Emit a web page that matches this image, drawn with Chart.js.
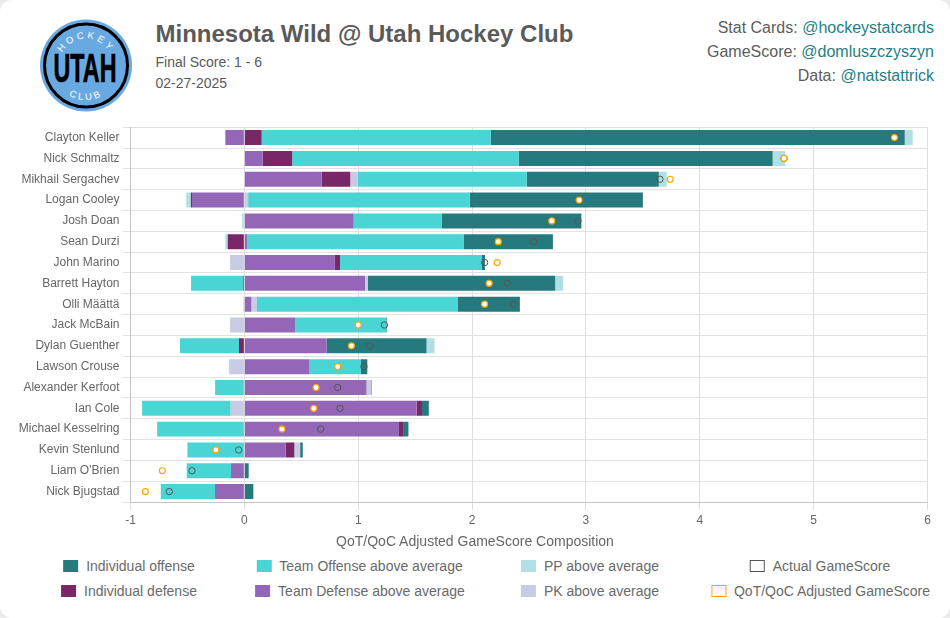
<!DOCTYPE html>
<html><head><meta charset="utf-8">
<script src="https://cdn.jsdelivr.net/npm/chart.js@4"></script>
<style>
html,body{margin:0;padding:0;width:950px;height:618px;overflow:hidden;background:#ebebeb;font-family:"Liberation Sans",Arial,sans-serif}
#card{position:absolute;left:0;top:0;width:950px;height:618px;background:#fff;border-radius:12px;overflow:hidden}
#logo{position:absolute;left:38px;top:17px;width:96px;height:98px}
h1{position:absolute;left:155.5px;top:18.5px;margin:0;font-size:24px;line-height:30px;font-weight:bold;color:#5a5a5a;white-space:nowrap}
.sub{position:absolute;left:155.5px;font-size:14px;line-height:18px;color:#5a5a5a;white-space:nowrap}
.cred{position:absolute;right:16px;font-size:16px;line-height:20px;color:#5c5c5c;white-space:nowrap}
.cred span{color:#1f8080}
canvas{position:absolute;left:0;top:117px}
#xtitle{position:absolute;left:0;width:950px;text-align:center;top:533px;font-size:14px;line-height:16px;color:#666}
.lg{position:absolute;font-size:14px;line-height:16px;color:#6a6a6a;white-space:nowrap;display:flex;align-items:center;transform:translateX(-50%)}
.lg i{display:inline-block;width:15px;height:12px;margin-right:8px;box-sizing:border-box}
</style></head><body>
<div id="card">
<svg id="logo" viewBox="38 17 96 98" xmlns="http://www.w3.org/2000/svg">
<defs>
<path id="arcTop" d="M 59 65.5 A 27 27 0 0 1 113 65.5"/>
<path id="arcBot" d="M 51.5 65.5 A 34.5 34.5 0 0 0 120.5 65.5"/>
</defs>
<circle cx="86" cy="65.5" r="46" fill="#68a9e2"/>
<circle cx="86" cy="65.5" r="41.5" fill="none" stroke="#000" stroke-width="3"/>
<text font-family="'Liberation Sans',Arial,sans-serif" font-size="9.5" fill="#fff" letter-spacing="3" text-anchor="middle"><textPath href="#arcTop" startOffset="50%">HOCKEY</textPath></text>
<text x="85" y="81.5" font-family="'Liberation Sans Narrow','Liberation Sans',Arial,sans-serif" font-size="41" font-weight="bold" fill="#000" stroke="#000" stroke-width="0.7" text-anchor="middle" textLength="63" lengthAdjust="spacingAndGlyphs">UTAH</text>
<text font-family="'Liberation Sans',Arial,sans-serif" font-size="9.5" fill="#fff" letter-spacing="2.6" text-anchor="middle"><textPath href="#arcBot" startOffset="50%">CLUB</textPath></text>
</svg>
<h1>Minnesota Wild @ Utah Hockey Club</h1>
<div class="sub" style="top:53px">Final Score: 1 - 6</div>
<div class="sub" style="top:74px">02-27-2025</div>
<div class="cred" style="top:18px">Stat Cards: <span>@hockeystatcards</span></div>
<div class="cred" style="top:42px">GameScore: <span>@domluszczyszyn</span></div>
<div class="cred" style="top:66px">Data: <span>@natstattrick</span></div>
<canvas id="c" width="950" height="440"></canvas>
<div id="xtitle">QoT/QoC Adjusted GameScore Composition</div>
<div id="legend"></div>
</div>
<script>
const players = ["Clayton Keller","Nick Schmaltz","Mikhail Sergachev","Logan Cooley","Josh Doan","Sean Durzi","John Marino","Barrett Hayton","Olli Määttä","Jack McBain","Dylan Guenther","Lawson Crouse","Alexander Kerfoot","Ian Cole","Michael Kesselring","Kevin Stenlund","Liam O'Brien","Nick Bjugstad"];
const xTicks = [-1,0,1,2,3,4,5,6];
const teamDefense = [-0.167,0.161,0.68,-0.46,0.96,0.024,0.795,1.06,0.062,0.448,0.723,0.568,1.068,1.513,1.358,0.363,-0.117,-0.251];
const indDefense = [0.152,0.259,0.25,-0.01,0,-0.146,0.045,-0.01,0,0,-0.047,0,0.003,0.047,0.042,0.076,0,-0.006];
const pkAbove = [0,0,0.065,0.033,0,0,-0.125,0.023,0.049,-0.125,0,-0.125,0.044,-0.12,0,0.051,0,0];
const teamOffense = [2.011,1.99,1.485,1.947,0.775,1.901,1.247,-0.458,1.765,0.799,-0.518,0.456,-0.257,-0.778,-0.766,-0.5,-0.389,-0.477];
const indOffense = [3.637,2.23,1.16,1.52,1.225,0.785,0.026,1.647,0.544,0.006,0.877,0.056,0.005,0.06,0.04,0.023,0.038,0.079];
const ppAbove = [0.07,0.11,0.07,-0.04,-0.02,-0.021,0,0.07,-0.01,0,0.07,-0.012,0,0,0.005,0,0,0];
const actualGS = [5.71,4.74,3.65,2.94,2.93,2.54,2.11,2.31,2.365,1.23,1.10,1.05,0.82,0.84,0.67,-0.05,-0.46,-0.66];
const adjustedGS = [5.71,4.74,3.74,2.94,2.70,2.23,2.22,2.15,2.11,1.00,0.94,0.82,0.63,0.61,0.33,-0.25,-0.72,-0.87];

const C = {io:"#267a7e",to:"#4bd4d4",id:"#7a2768",td:"#9466b8",pp:"#b2dfe3",pk:"#c8cbe3"};
const bar = (label,data,color)=>({type:"bar",label,data,backgroundColor:color,stack:"gs",order:2});
new Chart(document.getElementById("c"),{
  data:{labels:players,datasets:[
    bar("Team Defense above average",teamDefense,C.td),
    bar("Individual defense",indDefense,C.id),
    bar("PK above average",pkAbove,C.pk),
    bar("Team Offense above average",teamOffense,C.to),
    bar("Individual offense",indOffense,C.io),
    bar("PP above average",ppAbove,C.pp),
    {type:"line",label:"Actual GameScore",data:actualGS,showLine:false,pointRadius:3.2,pointBorderWidth:1,pointBorderColor:"#555",pointBackgroundColor:"rgba(0,0,0,0)",order:1},
    {type:"line",label:"QoT/QoC Adjusted GameScore",data:adjustedGS,showLine:false,pointRadius:3,pointBorderWidth:1.2,pointBorderColor:"#ffa500",pointBackgroundColor:"#fff",order:0}
  ]},
  options:{
    indexAxis:"y",responsive:false,animation:false,devicePixelRatio:1,
    layout:{padding:{left:0,right:22.5,top:9,bottom:0}},
    plugins:{legend:{display:false},tooltip:{enabled:false}},
    scales:{
      x:{type:"linear",min:xTicks[0],max:xTicks[xTicks.length-1],position:"bottom",
        afterFit(s){s.height=55},
        ticks:{stepSize:1,color:"#666",font:{family:"'Liberation Sans'",size:12},padding:3},
        grid:{color:"#ddd",tickLength:8},border:{color:"#c4c4c4"}},
      y:{type:"category",
        afterFit(s){s.width=130.5},
        ticks:{color:"#666",font:{family:"'Liberation Sans'",size:12},padding:3,autoSkip:false},
        grid:{color:"#e2e2e2",tickLength:8},border:{color:"#c4c4c4"}}
    }
  }
});
const legendItems = [
 ["Individual offense",C.io,"",129,558],
 ["Team Offense above average",C.to,"",359.5,558],
 ["PP above average",C.pp,"",590,558],
 ["Actual GameScore","#fff","#555",820,558],
 ["Individual defense",C.id,"",129,583],
 ["Team Defense above average",C.td,"",360,583],
 ["PK above average",C.pk,"",590,583],
 ["QoT/QoC Adjusted GameScore","#fff","#ffa500",820.5,583]
];
document.getElementById("legend").innerHTML = legendItems.map(([t,f,b,x,y])=>
 `<div class="lg" style="left:${x}px;top:${y}px"><i style="background:${f};${b?`border:1px solid ${b}`:""}"></i>${t}</div>`).join("");
</script>
</body></html>
